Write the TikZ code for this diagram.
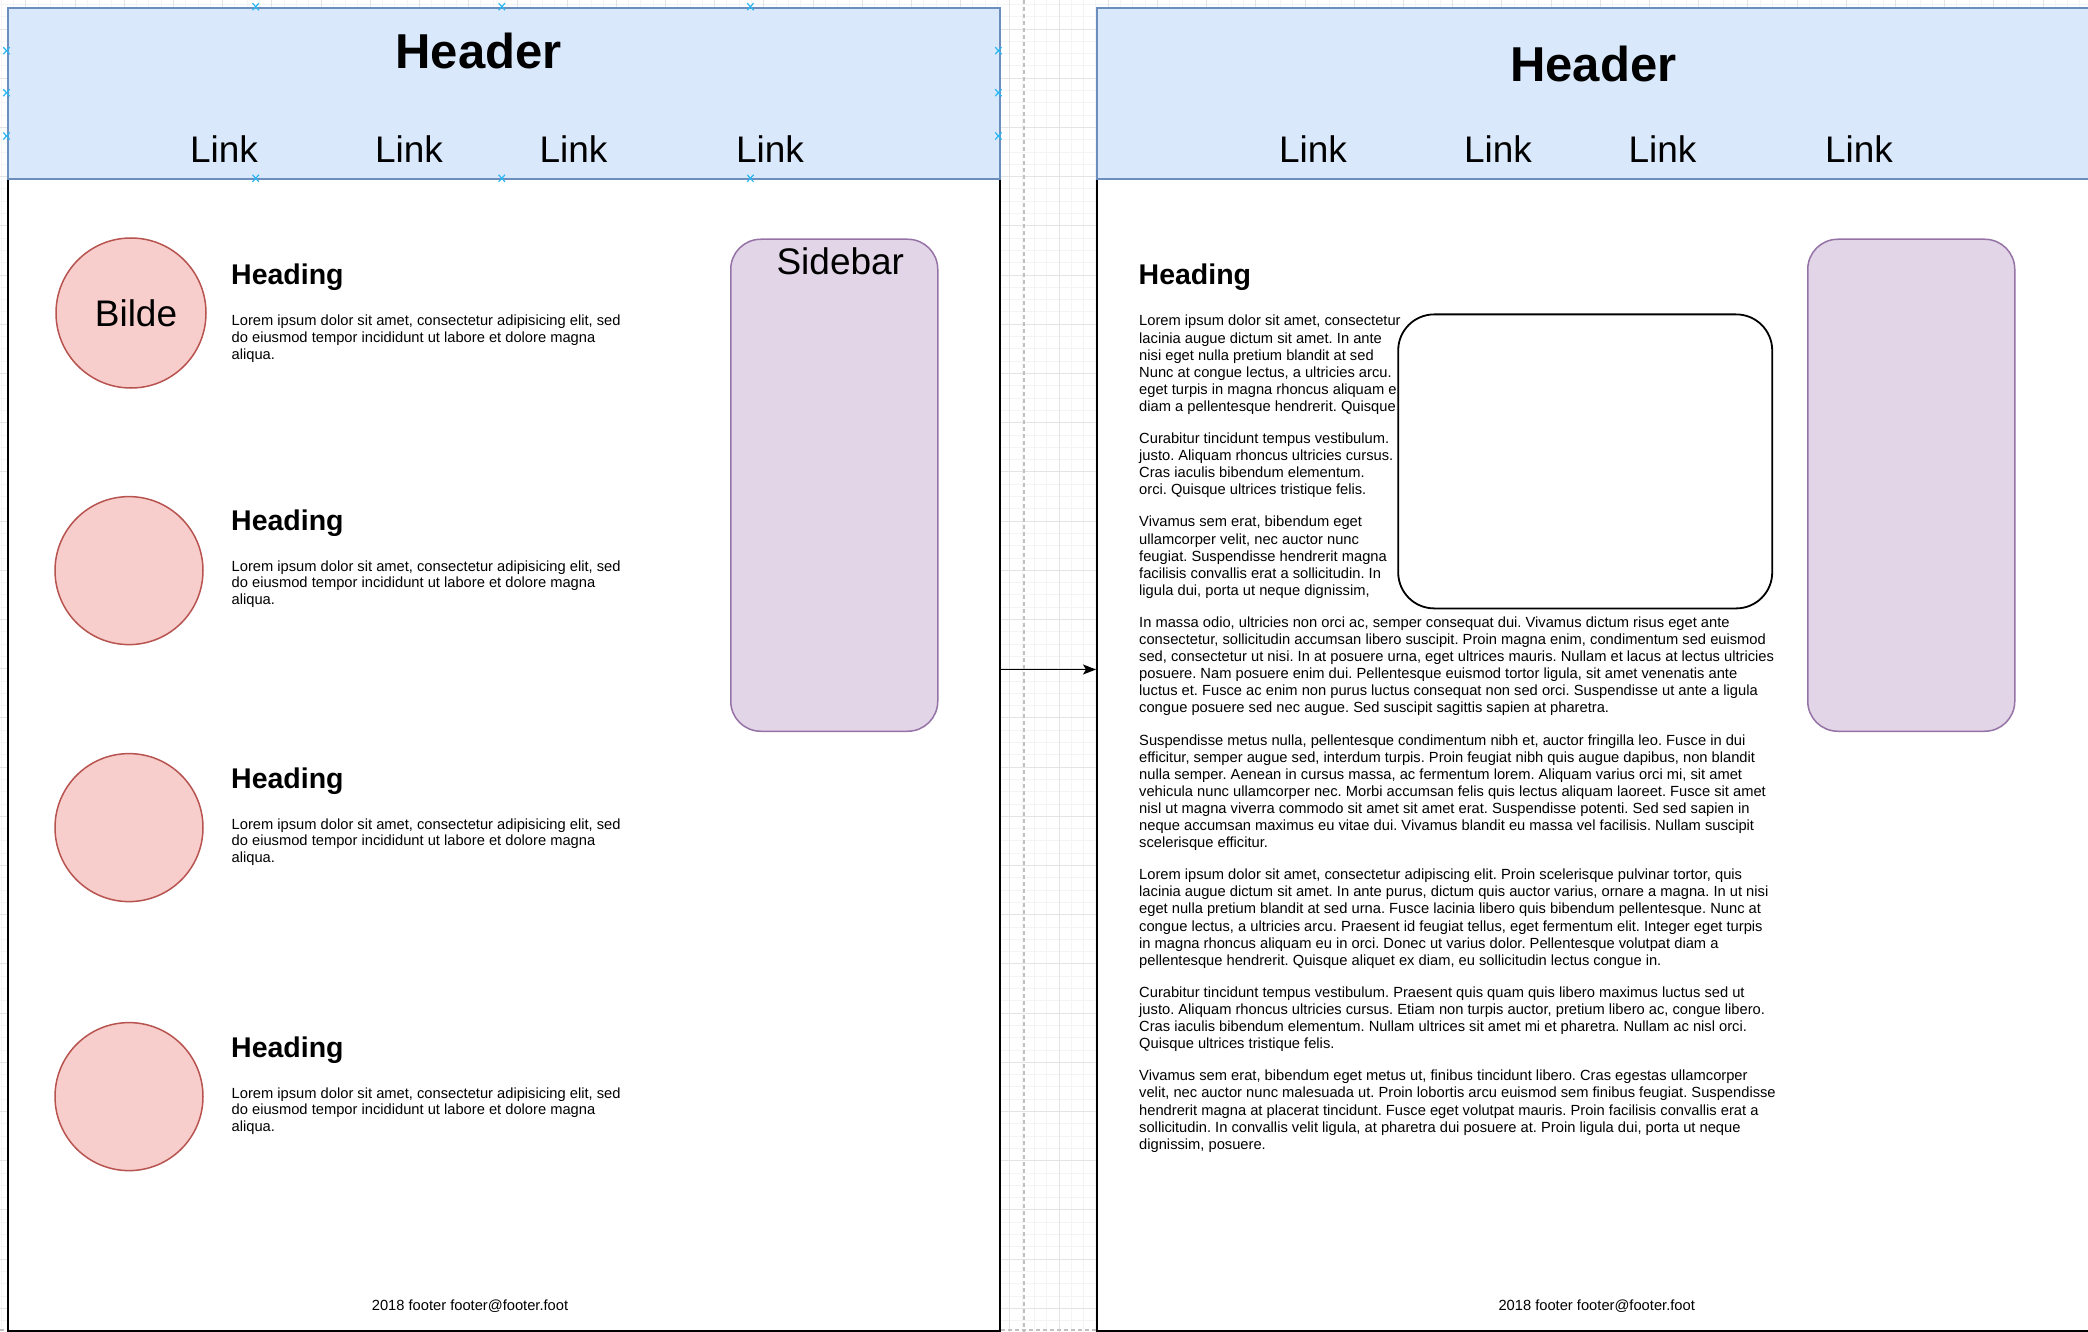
\documentclass[tikz,border=0pt]{standalone}
\usepackage{fontspec}
\setmainfont{Liberation Sans}
\usetikzlibrary{arrows.meta}
\frenchspacing
\definecolor{hdrfill}{HTML}{DAE8FC}
\definecolor{hdrline}{HTML}{6C8EBF}
\definecolor{imgfill}{HTML}{F8CECC}
\definecolor{imgline}{HTML}{B85450}
\definecolor{sidefill}{HTML}{E1D5E7}
\definecolor{sideline}{HTML}{9673A6}
\definecolor{selmark}{HTML}{29B6F2}
\definecolor{minorgrid}{HTML}{F4F4F4}
\definecolor{majorgrid}{HTML}{E4E4E4}
\definecolor{breakline}{HTML}{C0C0C0}
\begin{document}
\begin{tikzpicture}[x=1pt,y=-1pt,
  pagebox/.style={draw=black, line width=2pt, fill=white, inner sep=0pt, anchor=north west, minimum height=1323pt},
  hdrbox/.style={draw=hdrline, fill=hdrfill, line width=1.8pt, inner sep=0pt, anchor=north west, minimum height=171pt},
  hdrtext/.style={font=\fontsize{49}{58}\selectfont\bfseries, anchor=base, inner sep=0pt},
  linktext/.style={font=\fontsize{37}{44}\selectfont, anchor=base, inner sep=0pt},
  imgcircle/.style={circle, draw=imgline, fill=imgfill, line width=1.5pt, inner sep=0pt, font=\fontsize{37}{44}\selectfont},
  sidebox/.style={draw=sideline, fill=sidefill, line width=1.5pt, rounded corners=30pt, anchor=north west, minimum width=207pt, minimum height=492pt, inner sep=0pt},
  headtext/.style={font=\fontsize{28.5}{34}\selectfont\bfseries, anchor=base west, inner sep=0pt},
  bodytext/.style={anchor=base west, inner sep=0pt},
  foottext/.style={font=\fontsize{14.7}{17}\selectfont, anchor=base, inner sep=0pt},
  picbox/.style={draw=black, line width=1.8pt, fill=white, rounded corners=36pt, anchor=north west, minimum width=374pt, minimum height=294pt, inner sep=0pt},
  connector/.style={draw=black, line width=1.4pt, -{Stealth[length=13pt,width=10pt,inset=3pt]}},
  gridminor/.style={draw=minorgrid, line width=0.8pt},
  gridmajor/.style={draw=majorgrid, line width=0.8pt},
  pagebreak/.style={draw=breakline, line width=2pt, dash pattern=on 4pt off 3pt},
  selx/.style={draw=selmark, line width=1.2pt}
]
\useasboundingbox (0,0) rectangle (2088,1332);
\fill[white] (0,0) rectangle (2088,1332);
% background grid
\foreach \i in {0,...,169} \draw[gridminor] ({1.1+12.3*\i},0) -- ({1.1+12.3*\i},1332);
\foreach \j in {0,...,108} \draw[gridminor] (0,{4.4+12.3*\j}) -- (2088,{4.4+12.3*\j});
\foreach \k in {0,...,42} \draw[gridmajor] ({25.7+49.2*\k},0) -- ({25.7+49.2*\k},1332);
\foreach \k in {0,...,27} \draw[gridmajor] (0,{29+49.2*\k}) -- (2088,{29+49.2*\k});
% page break lines
\draw[pagebreak] (1024,0) -- (1024,1332);
\draw[pagebreak] (0,1330) -- (2088,1330);

% ---------------- left page ----------------
\node[pagebox, minimum width=992pt] (lpage) at (7,7) {};
\node[hdrbox, minimum width=992pt] (lhdr) at (7,7) {};
\node[hdrtext] (lhdrtext) at (478.5,68.3) {Header};
\node[linktext] (llink1) at (224,162.3) {Link};
\node[linktext] (llink2) at (409,162.3) {Link};
\node[linktext] (llink3) at (573.5,162.3) {Link};
\node[linktext] (llink4) at (770,162.3) {Link};

\node[imgcircle, minimum size=150pt] (limg1) at (131,313) {\hspace*{10pt}Bilde};
\node[imgcircle, minimum size=148pt] (limg2) at (129,570.6) {};
\node[imgcircle, minimum size=148pt] (limg3) at (129,827.6) {};
\node[imgcircle, minimum size=148pt] (limg4) at (129,1096.6) {};

\node[headtext] (lhead1) at (231,285) {Heading};
\node[headtext] (lhead2) at (231,530) {Heading};
\node[headtext] (lhead3) at (231,788.3) {Heading};
\node[headtext] (lhead4) at (231,1057.3) {Heading};

\node[bodytext] (lbody1) at (231.5,326) {\parbox[t]{450pt}{\fontsize{14.7}{16.7}\selectfont\raggedright Lorem ipsum dolor sit amet, consectetur adipisicing elit, sed\\ do eiusmod tempor incididunt ut labore et dolore magna\\ aliqua.}};
\node[bodytext] (lbody2) at (231.5,571) {\parbox[t]{450pt}{\fontsize{14.7}{16.7}\selectfont\raggedright Lorem ipsum dolor sit amet, consectetur adipisicing elit, sed\\ do eiusmod tempor incididunt ut labore et dolore magna\\ aliqua.}};
\node[bodytext] (lbody3) at (231.5,829) {\parbox[t]{450pt}{\fontsize{14.7}{16.7}\selectfont\raggedright Lorem ipsum dolor sit amet, consectetur adipisicing elit, sed\\ do eiusmod tempor incididunt ut labore et dolore magna\\ aliqua.}};
\node[bodytext] (lbody4) at (231.5,1098) {\parbox[t]{450pt}{\fontsize{14.7}{16.7}\selectfont\raggedright Lorem ipsum dolor sit amet, consectetur adipisicing elit, sed\\ do eiusmod tempor incididunt ut labore et dolore magna\\ aliqua.}};

\node[sidebox] (lside) at (730,238.5) {};
\node[linktext] (lsidetext) at (840.3,275) {Sidebar};

\node[foottext] (lfoot) at (470,1310.5) {2018 footer footer@footer.foot};

% selection markers on the left header
\foreach \x/\y in {255.7/6.7, 501.8/6.7, 750.4/6.7, 255.7/178.3, 501.8/178.3, 750.4/178.3, 6.5/50.7, 6.5/92.7, 6.5/136, 998.4/50.7, 998.4/92.7, 998.4/136} {
  \draw[selx] (\x-3.2,\y-3.5) -- (\x+3.2,\y+3.5);
  \draw[selx] (\x-3.2,\y+3.5) -- (\x+3.2,\y-3.5);
}

% ---------------- right page ----------------
\node[pagebox, minimum width=1000pt] (rpage) at (1096,7) {};
\node[hdrbox, minimum width=1000pt] (rhdr) at (1096,7) {};
\node[hdrtext] (rhdrtext) at (1593.3,82) {Header};
\node[linktext] (rlink1) at (1313,162.3) {Link};
\node[linktext] (rlink2) at (1498,162.3) {Link};
\node[linktext] (rlink3) at (1662.5,162.3) {Link};
\node[linktext] (rlink4) at (1859,162.3) {Link};

\node[headtext] (rhead) at (1138.5,285) {Heading};

\node[bodytext] (rbody) at (1139,326) {\parbox[t]{720pt}{\fontsize{14.7}{17.1}\selectfont\raggedright\setlength{\parskip}{15pt}%
Lorem ipsum dolor sit amet, consectetur\\
lacinia augue dictum sit amet. In ante\\
nisi eget nulla pretium blandit at sed\\
Nunc at congue lectus, a ultricies arcu.\\
eget turpis in magna rhoncus aliquam e\\
diam a pellentesque hendrerit. Quisque\par
Curabitur tincidunt tempus vestibulum.\\
justo. Aliquam rhoncus ultricies cursus.\\
Cras iaculis bibendum elementum.\\
orci. Quisque ultrices tristique felis.\par
Vivamus sem erat, bibendum eget\\
ullamcorper velit, nec auctor nunc\\
feugiat. Suspendisse hendrerit magna\\
facilisis convallis erat a sollicitudin. In\\
ligula dui, porta ut neque dignissim,\par
In massa odio, ultricies non orci ac, semper consequat dui. Vivamus dictum risus eget ante\\
consectetur, sollicitudin accumsan libero suscipit. Proin magna enim, condimentum sed euismod\\
sed, consectetur ut nisi. In at posuere urna, eget ultrices mauris. Nullam et lacus at lectus ultricies\\
posuere. Nam posuere enim dui. Pellentesque euismod tortor ligula, sit amet venenatis ante\\
luctus et. Fusce ac enim non purus luctus consequat non sed orci. Suspendisse ut ante a ligula\\
congue posuere sed nec augue. Sed suscipit sagittis sapien at pharetra.\par
Suspendisse metus nulla, pellentesque condimentum nibh et, auctor fringilla leo. Fusce in dui\\
efficitur, semper augue sed, interdum turpis. Proin feugiat nibh quis augue dapibus, non blandit\\
nulla semper. Aenean in cursus massa, ac fermentum lorem. Aliquam varius orci mi, sit amet\\
vehicula nunc ullamcorper nec. Morbi accumsan felis quis lectus aliquam laoreet. Fusce sit amet\\
nisl ut magna viverra commodo sit amet sit amet erat. Suspendisse potenti. Sed sed sapien in\\
neque accumsan maximus eu vitae dui. Vivamus blandit eu massa vel facilisis. Nullam suscipit\\
scelerisque efficitur.\par
Lorem ipsum dolor sit amet, consectetur adipiscing elit. Proin scelerisque pulvinar tortor, quis\\
lacinia augue dictum sit amet. In ante purus, dictum quis auctor varius, ornare a magna. In ut nisi\\
eget nulla pretium blandit at sed urna. Fusce lacinia libero quis bibendum pellentesque. Nunc at\\
congue lectus, a ultricies arcu. Praesent id feugiat tellus, eget fermentum elit. Integer eget turpis\\
in magna rhoncus aliquam eu in orci. Donec ut varius dolor. Pellentesque volutpat diam a\\
pellentesque hendrerit. Quisque aliquet ex diam, eu sollicitudin lectus congue in.\par
Curabitur tincidunt tempus vestibulum. Praesent quis quam quis libero maximus luctus sed ut\\
justo. Aliquam rhoncus ultricies cursus. Etiam non turpis auctor, pretium libero ac, congue libero.\\
Cras iaculis bibendum elementum. Nullam ultrices sit amet mi et pharetra. Nullam ac nisl orci.\\
Quisque ultrices tristique felis.\par
Vivamus sem erat, bibendum eget metus ut, finibus tincidunt libero. Cras egestas ullamcorper\\
velit, nec auctor nunc malesuada ut. Proin lobortis arcu euismod sem finibus feugiat. Suspendisse\\
hendrerit magna at placerat tincidunt. Fusce eget volutpat mauris. Proin facilisis convallis erat a\\
sollicitudin. In convallis velit ligula, at pharetra dui posuere at. Proin ligula dui, porta ut neque\\
dignissim, posuere.}};

\node[picbox] (rpic) at (1397.3,313.5) {};

\node[sidebox] (rside) at (1807,238.5) {};

\node[foottext] (rfoot) at (1596.7,1310.5) {2018 footer footer@footer.foot};

% connector
\draw[connector] (lpage.east) -- (rpage.west);
\end{tikzpicture}
\end{document}
